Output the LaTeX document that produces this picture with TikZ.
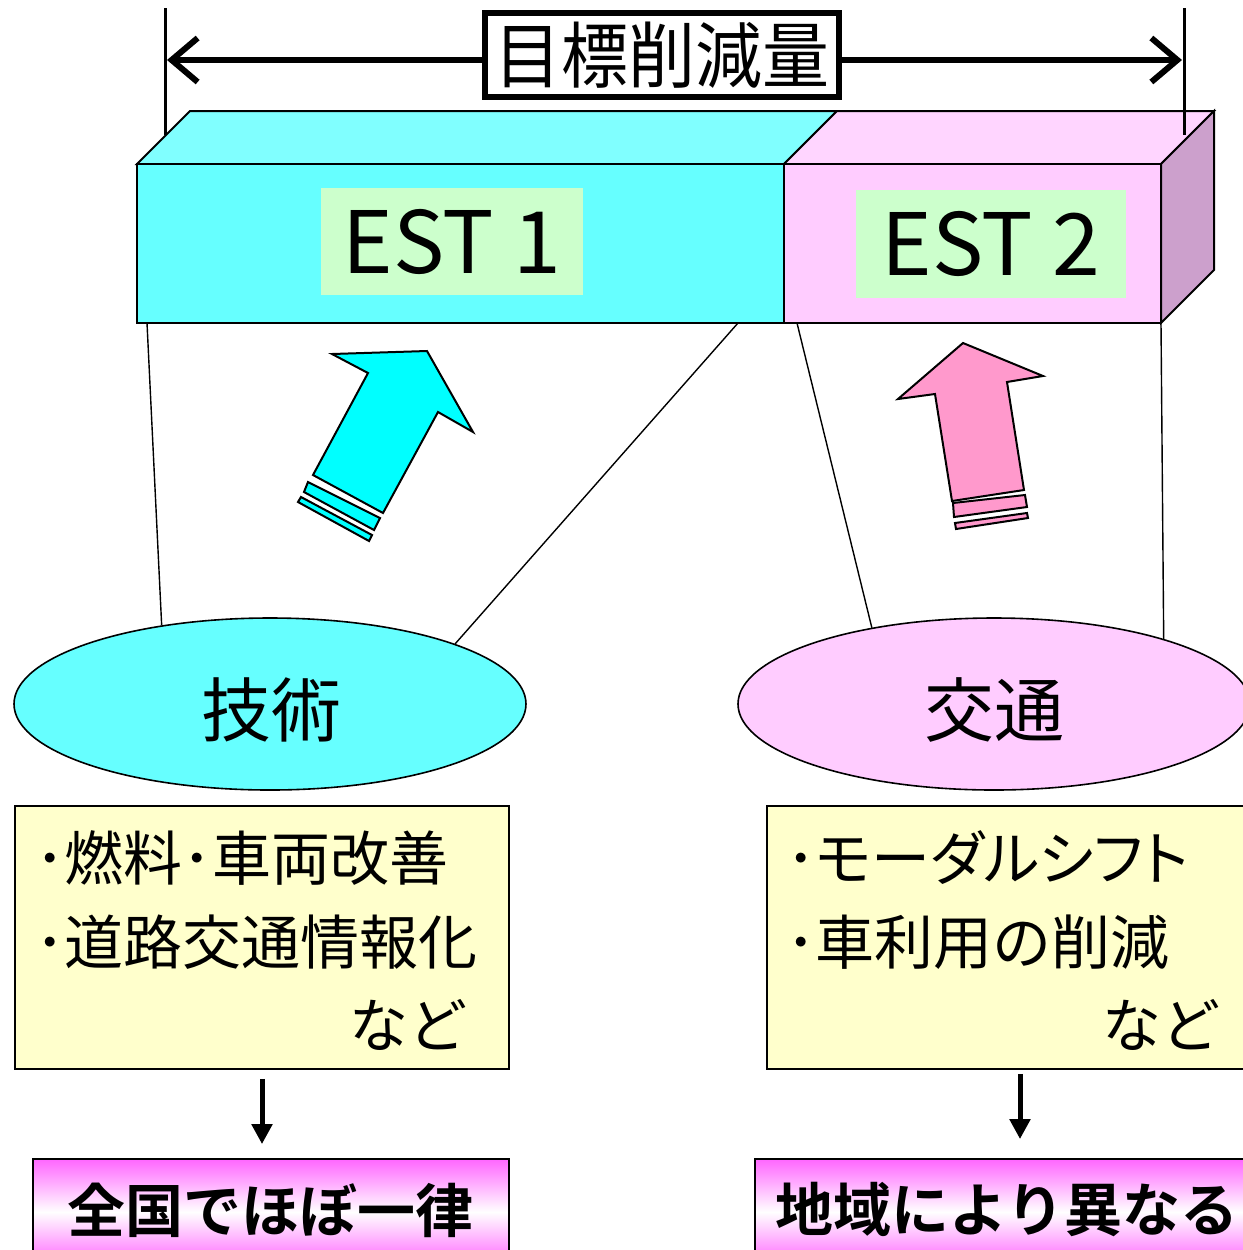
\documentclass[tikz,border=0pt]{standalone}
\usepackage{fontspec}
\setmainfont{Noto Sans CJK JP}[BoldFont={Noto Sans CJK JP Bold}]
\usetikzlibrary{arrows.meta,shapes.geometric}
\newcommand\myfs[1]{\fontsize{#1}{#1}\selectfont}
\definecolor{cyanfront}{HTML}{66FFFF}
\definecolor{cyantop}{HTML}{80FFFF}
\definecolor{pinkfront}{HTML}{FFCCFF}
\definecolor{pinktop}{HTML}{FFD5FF}
\definecolor{pinkside}{HTML}{CCA0CC}
\definecolor{estbg}{HTML}{CCFFCC}
\definecolor{arrcyan}{HTML}{00FFFF}
\definecolor{arrpink}{HTML}{FF99CC}
\definecolor{ylw}{HTML}{FFFFCC}
\definecolor{mgt}{HTML}{FF66FF}
\tikzset{
  face/.style={draw, line width=1pt, line join=miter},
  frontbox/.style={face, inner sep=0pt, rectangle},
  estlab/.style={fill=estbg, inner sep=0pt, font=\myfs{43pt}},
  ell/.style={ellipse, draw, line width=0.8pt, inner sep=0pt},
  elltext/.style={inner sep=0pt, font=\myfs{35pt}},
  conn/.style={line width=0.7pt},
  ybox/.style={draw, line width=0.9pt, fill=ylw, inner sep=0pt},
  item/.style={inner sep=0pt, font=\myfs{29.5pt}},
  resbox/.style={draw, line width=0.9pt, inner sep=0pt, top color=mgt, bottom color=mgt, middle color=white},
  restext/.style={inner sep=0pt, font=\bfseries\myfs{29pt}},
  darrow/.style={line width=2.5pt, -{Triangle[length=10pt,width=10pt]}},
  dimline/.style={line width=1.5pt},
  dimarrow/.style={line width=3pt, {Straight Barb[length=13pt,width=22pt]}-{Straight Barb[length=13pt,width=22pt]}},
  goallab/.style={draw, line width=3pt, fill=white, inner sep=0pt, minimum width=177pt, minimum height=42pt, font=\myfs{36pt}\addfontfeature{FakeStretch=0.93}},
  bigarrow/.style={draw, line width=1pt, line join=miter},
}
\begin{document}
\begin{tikzpicture}[x=0.5pt,y=-0.5pt]
\useasboundingbox (0,0) rectangle (1243,1250);
\clip (0,0) rectangle (1243,1250);
% 3D bar
\draw[face, fill=cyantop] (137,164) -- (190,111) -- (837,111) -- (784,164) -- cycle;
\draw[face, fill=pinktop] (784,164) -- (837,111) -- (1214,111) -- (1161,164) -- cycle;
\draw[face, fill=pinkside] (1161,164) -- (1214,111) -- (1214,270) -- (1161,323) -- cycle;
\node[frontbox, fill=cyanfront, minimum width=323.5pt, minimum height=79.5pt] (front1) at (460.5,243.5) {};
\node[frontbox, fill=pinkfront, minimum width=188.5pt, minimum height=79.5pt] (front2) at (972.5,243.5) {};
\node[estlab, minimum width=131pt, minimum height=53.5pt] (est1) at (452,241.5) {EST 1};
\node[estlab, minimum width=135pt, minimum height=54pt] (est2) at (991,244) {EST 2};
% dimension
\coordinate (vl1) at (165,8);
\coordinate (vl2) at (165,135);
\coordinate (vr1) at (1184,8);
\coordinate (vr2) at (1184,135);
\draw[dimline] (vl1) -- (vl2);
\draw[dimline] (vr1) -- (vr2);
\coordinate (dl) at (167,60);
\coordinate (dr) at (1182,60);
\draw[dimarrow] (dl) -- (dr);
\node[goallab] (goal) at (662,55) {目標削減量};
% ellipses
\node[ell, fill=cyanfront, minimum width=256pt, minimum height=86pt] (tech) at (270,704) {};
\node[ell, fill=pinkfront, minimum width=256pt, minimum height=86pt] (traf) at (994,704) {};
\node[elltext] (techt) at (271,710) {技術};
\node[elltext] (traft) at (994,710) {交通};
% connectors
\coordinate (c1) at (147,323);
\coordinate (c2) at (738,323);
\coordinate (c3) at (797,323);
\coordinate (c4) at (1161,323);
\draw[conn] (c1) -- (tech.144);
\draw[conn] (c2) -- (tech.18);
\draw[conn] (c3) -- (traf.148);
\draw[conn] (c4) -- (traf.21.6);
% big arrows
\draw[bigarrow, fill=arrcyan] (332,354) -- (427,351) -- (473,432) -- (438,412) -- (383,513) -- (313,475) -- (368,373) -- cycle;
\draw[bigarrow, fill=arrcyan] (308,482) -- (380,518) -- (374,530) -- (304,492) -- cycle;
\draw[bigarrow, fill=arrcyan] (301,497) -- (372,535) -- (369,541) -- (298,502) -- cycle;
\draw[bigarrow, fill=arrpink] (963,343) -- (1043,376) -- (1007,382) -- (1024,490) -- (952,501) -- (935,394) -- (898,399) -- cycle;
\draw[bigarrow, fill=arrpink] (953,503) -- (1025,495) -- (1027,507) -- (954,517) -- cycle;
\draw[bigarrow, fill=arrpink] (955,523) -- (1027,513) -- (1028,518) -- (956,529) -- cycle;
% yellow boxes
\node[ybox, minimum width=247pt, minimum height=131.5pt] (lbox) at (262,937.5) {};
\node[ybox, minimum width=253pt, minimum height=131.5pt] (rbox) at (1020,937.5) {};
\node[item, anchor=west] (l1) at (35,858) {･燃料･車両改善};
\node[item, anchor=west] (l2) at (35,942) {･道路交通情報化};
\node[item, anchor=east] (l3) at (468,1025) {など};
\node[item, anchor=west] (r1) at (786,858) {\addfontfeature{RawFeature=+palt}･モーダルシフト};
\node[item, anchor=west] (r2) at (786,942) {･車利用の削減};
\node[item, anchor=east] (r3) at (1221,1025) {など};
% result boxes
\node[resbox, minimum width=238pt, minimum height=53pt] (lres) at (271,1212) {};
\node[resbox, minimum width=255pt, minimum height=53pt] (rres) at (1010,1212) {};
\node[restext] (lrest) at (271,1210) {全国でほぼ一律};
\node[restext] (rrest) at (1007,1210) {地域により異なる};
% down arrows
\draw[darrow, shorten <=4.5pt, shorten >=7pt] (lbox.south) -- (lbox.south |- lres.north);
\draw[darrow, shorten <=2pt, shorten >=9.5pt] (rbox.south) -- (rbox.south |- rres.north);
\end{tikzpicture}
\end{document}
